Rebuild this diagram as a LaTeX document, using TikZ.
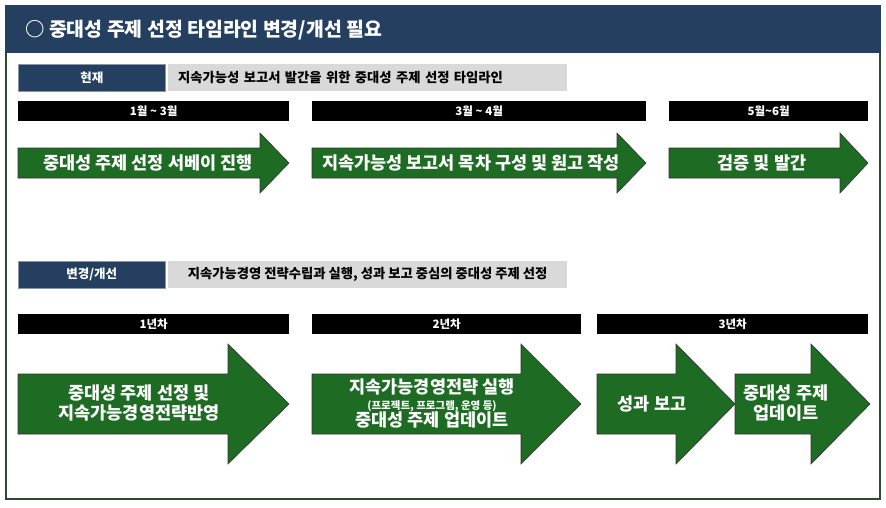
\documentclass[tikz,border=0pt]{standalone}
\usepackage{fontspec}
\setmainfont{Noto Sans CJK KR}
\definecolor{navy}{HTML}{243F60}
\definecolor{framegreen}{HTML}{2F4A2F}
\definecolor{arrowgreen}{HTML}{1E6B24}
\definecolor{graybox}{HTML}{D9D9D9}

\begin{document}
\begin{tikzpicture}[x=1pt,y=-1pt,
  tag/.style={fill=navy,draw=navy!55!white,line width=0.6pt,text=white,
    minimum width=147pt,minimum height=27pt,anchor=north west,inner sep=0pt,
    font=\fontsize{12.5}{14}\selectfont\bfseries},
  graytag/.style={fill=graybox,minimum width=399pt,minimum height=27pt,
    anchor=north west,inner sep=0pt,font=\fontsize{13.3}{15}\selectfont\bfseries},
  bar/.style={fill=black,text=white,minimum height=20pt,anchor=north west,
    inner sep=0pt,font=\fontsize{11.5}{13}\selectfont\bfseries},
  arrowbody/.style={fill=arrowgreen,draw=black!80,line width=0.6pt,line join=miter},
  arrowtext/.style={text=white,align=center,inner sep=0pt,
    font=\fontsize{17.5}{20}\selectfont\bfseries}]
\useasboundingbox (0,0) rectangle (886,507);
% frame and title bar
\draw[framegreen,line width=1.2pt] (6,6) rectangle (880,499);
\fill[navy] (5,5) rectangle (881,53);
\node[anchor=west,text=white,inner sep=0pt,font=\fontsize{19.4}{22}\selectfont\bfseries] (title) at (25,30) {○ 중대성 주제 선정 타임라인 변경/개선 필요};

% current timeline
\node[tag] (now) at (18,64) {현재};
\node[graytag,text width=379pt,align=left] (nowtext) at (168,64) {지속가능성 보고서 발간을 위한 중대성 주제 선정 타임라인};
\node[bar,minimum width=271pt] (m1) at (18,101) {1월 \textasciitilde{} 3월};
\node[bar,minimum width=334pt] (m2) at (312,101) {3월 \textasciitilde{} 4월};
\node[bar,minimum width=199pt] (m3) at (669,101) {5월\textasciitilde6월};
\draw[arrowbody] (18,148) -- (260,148) -- (260,133) -- (289,163) -- (260,193) -- (260,178) -- (18,178) -- cycle;
\draw[arrowbody] (312,148) -- (617,148) -- (617,133) -- (646,163) -- (617,193) -- (617,178) -- (312,178) -- cycle;
\draw[arrowbody] (669,148) -- (840,148) -- (840,133) -- (868,163) -- (840,193) -- (840,178) -- (669,178) -- cycle;
\node[arrowtext] (survey) at (148,163) {중대성 주제 선정 서베이 진행};
\node[arrowtext] (draft) at (471,163) {지속가능성 보고서 목차 구성 및 원고 작성};
\node[arrowtext] (publish) at (762,163) {검증 및 발간};

% changed timeline
\node[tag] (change) at (18,261) {변경/개선};
\node[graytag] (changetext) at (168,261) {지속가능경영 전략수립과 실행, 성과 보고 중심의 중대성 주제 선정};
\node[bar,minimum width=271pt] (y1) at (18,314) {1년차};
\node[bar,minimum width=269pt] (y2) at (312,314) {2년차};
\node[bar,minimum width=271pt] (y3) at (597,314) {3년차};
\draw[arrowbody] (18,374) -- (228,374) -- (228,344) -- (289,404) -- (228,464) -- (228,434) -- (18,434) -- cycle;
\draw[arrowbody] (312,374) -- (521,374) -- (521,344) -- (581,404) -- (521,464) -- (521,434) -- (312,434) -- cycle;
\draw[arrowbody] (597,374) -- (676,374) -- (676,344) -- (735,404) -- (676,464) -- (676,434) -- (597,434) -- cycle;
\draw[arrowbody] (735,374) -- (811,374) -- (811,344) -- (870,404) -- (811,464) -- (811,434) -- (735,434) -- cycle;
\node[arrowtext] (select) at (139,403) {중대성 주제 선정 및\\지속가능경영전략반영};
\node[arrowtext] (execute) at (432,403) {지속가능경영전략 실행\\[-4pt]{\fontsize{10.5}{11}\selectfont (프로젝트, 프로그램, 운영 등)}\\[-3pt]중대성 주제 업데이트};
\node[arrowtext] (report) at (652,404) {성과 보고};
\node[arrowtext] (update) at (786,403) {중대성 주제\\업데이트};
\end{tikzpicture}
\end{document}
